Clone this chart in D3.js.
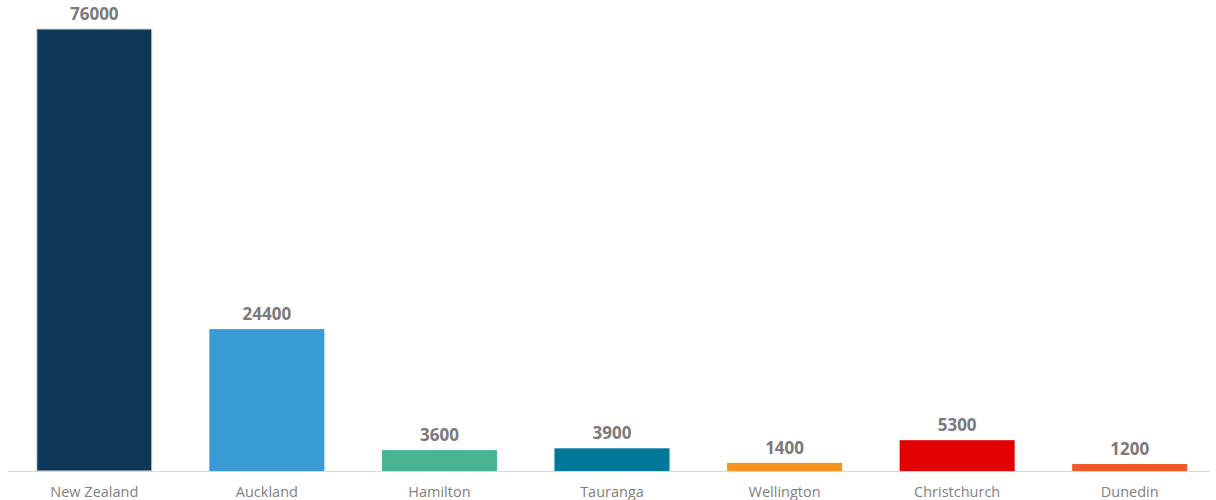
<!DOCTYPE html>
<html lang="en">

<head>
    <script src='https://d3js.org/d3.v7.min.js'></script>
    <style>
        body { margin: 0; background: #fff; }
        text { font-family: "Open Sans", sans-serif; }
    </style>
</head>

<body>
</body>

<script>

    // chart data
    const places = ["New Zealand", "Auckland", "Hamilton", "Tauranga", "Wellington", "Christchurch", "Dunedin"];
    const values = [76000, 24400, 3600, 3900, 1400, 5300, 1200];
    const colours = ["#0f3758", "#3a9ad6", "#48b494", "#00789a", "#f7941d", "#e30000", "#f15a2b"];

    const width = 1216;
    const height = 500;
    const baseline = 471;
    const plotTop = 29;

    var svg = d3.select("body")
                .append("svg")
                .attr("width", width)
                .attr("height", height);

    var x = d3.scaleBand()
                .domain(places)
                .range([8, 1216])
                .paddingInner(1 / 3)
                .paddingOuter(1 / 6);

    var y = d3.scaleLinear()
                .domain([0, d3.max(values)])
                .range([baseline, plotTop]);

    // bars
    svg.selectAll("rect.bar")
        .data(values)
        .enter()
        .append("rect")
        .attr("class", "bar")
        .attr("x", function (d, i) { return x(places[i]); })
        .attr("y", function (d) { return y(d); })
        .attr("width", x.bandwidth())
        .attr("height", function (d) { return baseline - y(d); })
        .attr("fill", function (d, i) { return colours[i]; })
        .attr("stroke", function (d, i) { return i === 0 ? "#d9d9d9" : "none"; })
        .attr("stroke-width", 1);

    // value labels
    svg.selectAll("text.value")
        .data(values)
        .enter()
        .append("text")
        .attr("class", "value")
        .attr("x", function (d, i) { return x(places[i]) + x.bandwidth() / 2; })
        .attr("y", function (d) { return y(d) - 9; })
        .style("text-anchor", "middle")
        .style("font-size", "17px")
        .style("font-weight", "bold")
        .style("fill", "#7a7a7a")
        .text(function (d) { return d; });

    // x axis
    var xAxis = svg.append("g")
                    .attr("transform", "translate(0," + baseline + ")")
                    .call(d3.axisBottom(x).tickSize(0).tickPadding(16));

    xAxis.select(".domain")
        .attr("d", "M8,0.5H1210")
        .attr("stroke", "#d9d9d9");

    xAxis.selectAll("text")
        .style("font-size", "14.5px")
        .style("fill", "#808080")
        .style("font-family", "'Open Sans', sans-serif");

</script>

</html>
